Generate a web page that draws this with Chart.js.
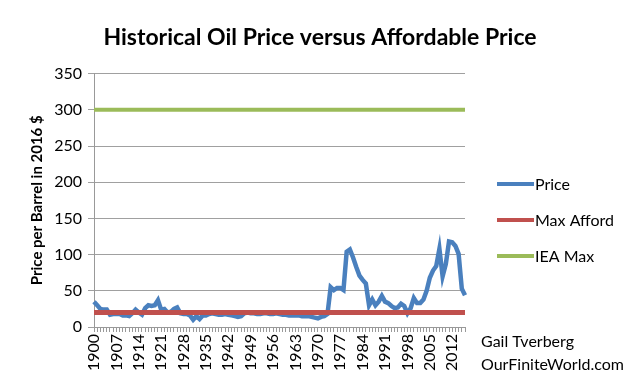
<!DOCTYPE html>
<html>
<head>
<meta charset="utf-8">
<script src="https://cdn.jsdelivr.net/npm/chart.js@4/dist/chart.umd.min.js"></script>
<style>
html,body{margin:0;padding:0;background:#fff;}
#wrap{width:640px;height:386px;}
</style>
</head>
<body>
<div id="wrap"><canvas id="c" width="640" height="386"></canvas></div>
<script>
const years = [];
for (let y = 1900; y <= 2016; y++) years.push(String(y));

const price = [35,30,25,24,24,17,18,18,18,16,16,15,19,24,20,17,26,30,29,30,
  37,24,25,20,21,25,27,19,18,18,16,10,15,11,16,16,18,19,18,17,
  17,18,17,16,15,14,15,19,20,19,19,18,18,19,19,18,18,19,18,17,
  17,16,16,16,16,15,15,15,14,13,12,14,15,18,55,51,54,54,51,104,
  107,96,83,71,65,60,30,38,30,35,43,35,33,29,26,27,32,29,19,26,
  40,33,33,38,50,68,78,84,108,70,87,118,117,112,101,53,44];
const maxAfford = years.map(() => 20);
const ieaMax = years.map(() => 300);
const yTicks = [0,50,100,150,200,250,300,350];

const seriesNames = ['Price','Max Afford','IEA Max'];
const seriesColors = ['#4A80BE','#C0504D','#9BBB59'];

const legendPlugin = {
  id: 'customLegend',
  afterDraw(chart) {
    const ctx = chart.ctx;
    ctx.save();
    const ys = [184, 220, 256];
    seriesNames.forEach((n, i) => {
      ctx.strokeStyle = seriesColors[i];
      ctx.lineWidth = 4;
      ctx.beginPath();
      ctx.moveTo(497, ys[i]);
      ctx.lineTo(534, ys[i]);
      ctx.stroke();
      ctx.fillStyle = '#000';
      ctx.font = '16px Lato';
      ctx.textBaseline = 'middle';
      ctx.textAlign = 'left';
      ctx.fillText(n, 535, ys[i] + 1);
    });
    ctx.font = '16px Lato';
    ctx.fillText('Gail Tverberg', 481, 342);
    ctx.fillText('OurFiniteWorld.com', 481, 365);
    ctx.restore();
  }
};

new Chart(document.getElementById('c'), {
  type: 'line',
  data: {
    labels: years,
    datasets: [
      {label: 'Price', data: price, borderColor: seriesColors[0], borderWidth: 4.5, pointRadius: 0, tension: 0, order: 2},
      {label: 'Max Afford', data: maxAfford, borderColor: seriesColors[1], borderWidth: 5, pointRadius: 0, tension: 0, order: 1},
      {label: 'IEA Max', data: ieaMax, borderColor: seriesColors[2], borderWidth: 4, pointRadius: 0, tension: 0, order: 0}
    ]
  },
  options: {
    responsive: false,
    animation: false,
    layout: {padding: 0},
    plugins: {
      legend: {display: false},
      tooltip: {enabled: false},
      title: {
        display: true,
        text: 'Historical Oil Price versus Affordable Price',
        color: '#000',
        font: {family: 'Lato', size: 23, weight: 'bold'},
        padding: {top: 24, bottom: 22}
      }
    },
    scales: {
      x: {
        offset: false,
        grid: {display: true, drawOnChartArea: false, drawTicks: true, tickLength: 5, color: '#999'},
        border: {display: true, color: '#999', width: 1},
        ticks: {
          autoSkip: false,
          maxRotation: 90,
          minRotation: 90,
          color: '#000',
          font: {family: 'Lato', size: 16},
          padding: 2,
          callback: function(v, i) { return i % 7 === 0 ? years[i] : ''; }
        },
        afterFit: function(s) { s.height = 59; }
      },
      y: {
        min: 0,
        max: 350,
        afterBuildTicks: function(s) { s.ticks = yTicks.map(v => ({value: v})); },
        grid: {color: '#A0A0A0', tickLength: 6, lineWidth: 1},
        border: {display: true, color: '#999'},
        ticks: {color: '#000', font: {family: 'Lato', size: 16}, padding: 6},
        title: {
          display: true,
          text: 'Price per Barrel in 2016 $',
          color: '#000',
          font: {family: 'Lato', size: 15, weight: 'bold'},
          padding: {top: 28, bottom: 4}
        },
        afterFit: function(s) { s.width = 94; }
      },
      spacer: {
        type: 'linear',
        position: 'right',
        display: true,
        grid: {display: false, drawTicks: false},
        border: {display: false},
        ticks: {display: false},
        afterFit: function(s) { s.width = 175; }
      }
    }
  },
  plugins: [legendPlugin]
});
</script>
</body>
</html>
